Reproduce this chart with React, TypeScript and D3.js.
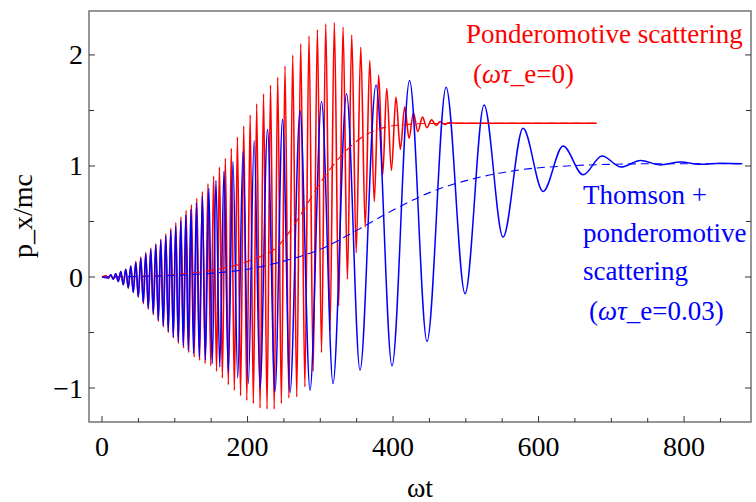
import React from "react";
import * as d3 from "d3";

// ---- data ----
const redPeaks: [number, number][] = [[5.2,0.01],[12.1,0.02],[19.0,0.03],[25.8,0.05],[32.7,0.07],[39.6,0.10],[46.5,0.14],[53.3,0.18],[60.2,0.22],[67.1,0.26],[74.0,0.30],[80.8,0.34],[87.7,0.39],[94.6,0.44],[101.4,0.49],[108.5,0.54],[115.6,0.60],[122.9,0.65],[130.3,0.71],[137.9,0.77],[145.6,0.84],[153.4,0.91],[161.4,0.99],[169.5,1.07],[177.7,1.16],[186.1,1.26],[194.8,1.36],[203.6,1.46],[212.6,1.56],[222.0,1.65],[231.6,1.73],[241.5,1.80],[251.5,1.90],[262.1,2.00],[273.1,2.10],[284.5,2.17],[296.0,2.23],[307.5,2.28],[319.3,2.29],[331.3,2.25],[343.2,2.18],[355.6,2.07],[368.0,1.95],[380.3,1.82],[391.3,1.70],[404,1.62],[416,1.53],[428,1.48],[440.5,1.44],[453,1.415],[465,1.40],[477,1.39]];
const redTroughs: [number, number][] = [[8.7,-0.01],[15.5,-0.02],[22.4,-0.04],[29.3,-0.07],[36.2,-0.10],[43.0,-0.14],[49.9,-0.18],[56.8,-0.24],[63.6,-0.29],[70.5,-0.34],[77.4,-0.40],[84.3,-0.45],[91.1,-0.50],[98.0,-0.55],[105.0,-0.60],[112.0,-0.64],[119.2,-0.68],[126.6,-0.72],[134.1,-0.75],[141.7,-0.78],[149.5,-0.80],[157.4,-0.85],[165.4,-0.91],[173.6,-0.97],[181.9,-1.02],[190.4,-1.07],[199.0,-1.11],[208.0,-1.14],[217.2,-1.18],[226.8,-1.19],[236.6,-1.19],[246.5,-1.14],[256.8,-1.09],[267.6,-1.08],[278.8,-0.99],[290.2,-0.85],[301.7,-0.68],[313.4,-0.48],[325.3,-0.26],[337.3,-0.02],[349.4,0.22],[361.8,0.45],[374.2,0.68],[385.8,0.92],[397.8,0.96],[410,1.15],[422,1.25],[434,1.31],[446.5,1.345],[459,1.365],[471,1.375]];
const redEnds: [number, number][] = [[0,0],[490,1.385],[680,1.385]];

const bluePeaks: [number, number][] = [[12.0,0.02],[18.8,0.03],[25.7,0.05],[32.6,0.07],[39.5,0.10],[46.3,0.13],[53.2,0.17],[60.1,0.21],[66.9,0.25],[73.8,0.29],[80.7,0.33],[87.6,0.37],[94.4,0.42],[101.3,0.46],[108.2,0.51],[115.1,0.56],[122.1,0.61],[129.7,0.67],[137.9,0.73],[146.8,0.80],[156.6,0.87],[167.6,0.95],[180.0,1.04],[193.8,1.13],[209.1,1.23],[227.5,1.33],[248.1,1.42],[272.2,1.50],[301.7,1.58],[336.1,1.65],[376.6,1.73],[422.7,1.77],[472.9,1.71],[525.1,1.55],[578.7,1.34],[633.7,1.18],[687.3,1.09],[740.2,1.05],[795.5,1.035],[850.5,1.025]];
const blueTroughs: [number, number][] = [[8.5,-0.01],[15.4,-0.02],[22.3,-0.04],[29.1,-0.07],[36.0,-0.10],[42.9,-0.14],[49.8,-0.18],[56.6,-0.23],[63.5,-0.28],[70.4,-0.33],[77.3,-0.39],[84.1,-0.44],[91.0,-0.49],[97.9,-0.54],[104.7,-0.58],[111.6,-0.62],[118.5,-0.66],[125.8,-0.69],[133.6,-0.72],[142.1,-0.75],[151.5,-0.78],[161.8,-0.81],[173.5,-0.86],[186.5,-0.91],[201.1,-0.96],[217.2,-1.00],[237.8,-1.03],[258.4,-1.04],[285.9,-1.02],[317.5,-0.96],[354.6,-0.84],[398.6,-0.80],[446.7,-0.58],[499.0,-0.15],[551.2,0.36],[606.2,0.77],[661.2,0.92],[713.4,0.99],[767.0,1.01],[822.0,1.015]];
const blueEnds: [number, number][] = [[0,0],[880,1.02]];

const redMean: [number, number][] = [[0,0],[50,0.005],[100,0.02],[150,0.06],[200,0.14],[245,0.30],[272,0.55],[300,0.85],[330,1.10],[360,1.27],[390,1.35],[420,1.375],[450,1.383],[680,1.385]];
const blueMean: [number, number][] = [[0,0],[100,0.015],[153,0.035],[200,0.07],[245,0.135],[300,0.25],[350,0.42],[405,0.62],[450,0.76],[520,0.90],[580,0.97],[639,1.0],[700,1.015],[760,1.02],[880,1.02]];

const xTicks = [0, 200, 400, 600, 800];
const xTickLabels = ["0", "200", "400", "600", "800"];
const xMinor = [50, 100, 150, 250, 300, 350, 450, 500, 550, 650, 700, 750, 850];
const yTicks = [-1, 0, 1, 2];
const yTickLabels = ["\u22121", "0", "1", "2"];
const yMinor = [-0.5, 0.5, 1.5];

export default function App() {
  const L = 89, R = 751, T = 11, B = 422;
  const x = d3.scaleLinear().domain([-17.9, 892]).range([L, R]);
  const y = d3.scaleLinear().domain([-1.306, 2.396]).range([B, T]);
  const line = d3
    .line<[number, number]>()
    .x((d) => x(d[0]))
    .y((d) => y(d[1]))
    .curve(d3.curveMonotoneX);
  const sortT = (a: [number, number][]) => a.slice().sort((p, q) => p[0] - q[0]);
  const red = sortT([...redEnds, ...redPeaks, ...redTroughs]);
  const blue = sortT([...blueEnds, ...bluePeaks, ...blueTroughs]);
  const axisColor = "#6a6a6a";
  const tick = { fontFamily: "Liberation Serif", fontSize: 28 };
  const leg = { fontFamily: "Liberation Serif", fontSize: 27 };

  return (
    <svg width={756} height={502} style={{ position: "absolute", left: 0, top: 0, background: "#fff" }}>
      <defs>
        <clipPath id="plot">
          <rect x={L} y={T} width={R - L} height={B - T} />
        </clipPath>
      </defs>
      <g clipPath="url(#plot)" fill="none">
        <path d={line(red) || ""} stroke="#ff0000" strokeWidth={1.6} />
        <path d={line(blue) || ""} stroke="#0000ff" strokeWidth={1.5} />
        <path d={line(redMean) || ""} stroke="#ff0000" strokeWidth={1.1} strokeDasharray="8,5" />
        <path d={line(blueMean) || ""} stroke="#0000ff" strokeWidth={1.1} strokeDasharray="8,5" />
      </g>
      <rect x={L} y={T} width={R - L} height={B - T} fill="none" stroke={axisColor} strokeWidth={1.4} />
      {xTicks.map((t) => (
        <line key={"xt" + t} x1={x(t)} x2={x(t)} y1={B} y2={B - 6} stroke="#333" strokeWidth={1} />
      ))}
      {xMinor.map((t) => (
        <line key={"xm" + t} x1={x(t)} x2={x(t)} y1={B} y2={B - 4} stroke="#333" strokeWidth={1} />
      ))}
      {yTicks.map((v) => (
        <g key={"yt" + v}>
          <line x1={L} x2={L + 6} y1={y(v)} y2={y(v)} stroke="#333" strokeWidth={1} />
          <line x1={R} x2={R - 6} y1={y(v)} y2={y(v)} stroke="#333" strokeWidth={1} />
        </g>
      ))}
      {yMinor.map((v) => (
        <g key={"ym" + v}>
          <line x1={L} x2={L + 5} y1={y(v)} y2={y(v)} stroke="#333" strokeWidth={1} />
          <line x1={R} x2={R - 5} y1={y(v)} y2={y(v)} stroke="#333" strokeWidth={1} />
        </g>
      ))}
      {xTicks.map((t, i) => (
        <text key={"xl" + t} x={x(t)} y={456} textAnchor="middle" style={tick}>
          {xTickLabels[i]}
        </text>
      ))}
      {yTicks.map((v, i) => (
        <text key={"yl" + v} x={83} y={y(v) + 9.5} textAnchor="end" style={tick}>
          {yTickLabels[i]}
        </text>
      ))}
      <text x={(L + R) / 2} y={497} textAnchor="middle" style={tick}>ωt</text>
      <text transform="translate(32,216) rotate(-90)" textAnchor="middle" style={tick}>p_x/mc</text>
      <text x={466} y={43} fill="#ff0000" style={leg}>Ponderomotive scattering</text>
      <text x={473} y={83} fill="#ff0000" style={leg}>
        (<tspan fontStyle="italic">ωτ</tspan>_e=0)
      </text>
      <text x={583} y={204} fill="#0000ff" style={leg}>Thomson +</text>
      <text x={583} y={242} fill="#0000ff" style={leg}>ponderomotive</text>
      <text x={583} y={280} fill="#0000ff" style={leg}>scattering</text>
      <text x={589} y={320} fill="#0000ff" style={leg}>
        (<tspan fontStyle="italic">ωτ</tspan>_e=0.03)
      </text>
    </svg>
  );
}
